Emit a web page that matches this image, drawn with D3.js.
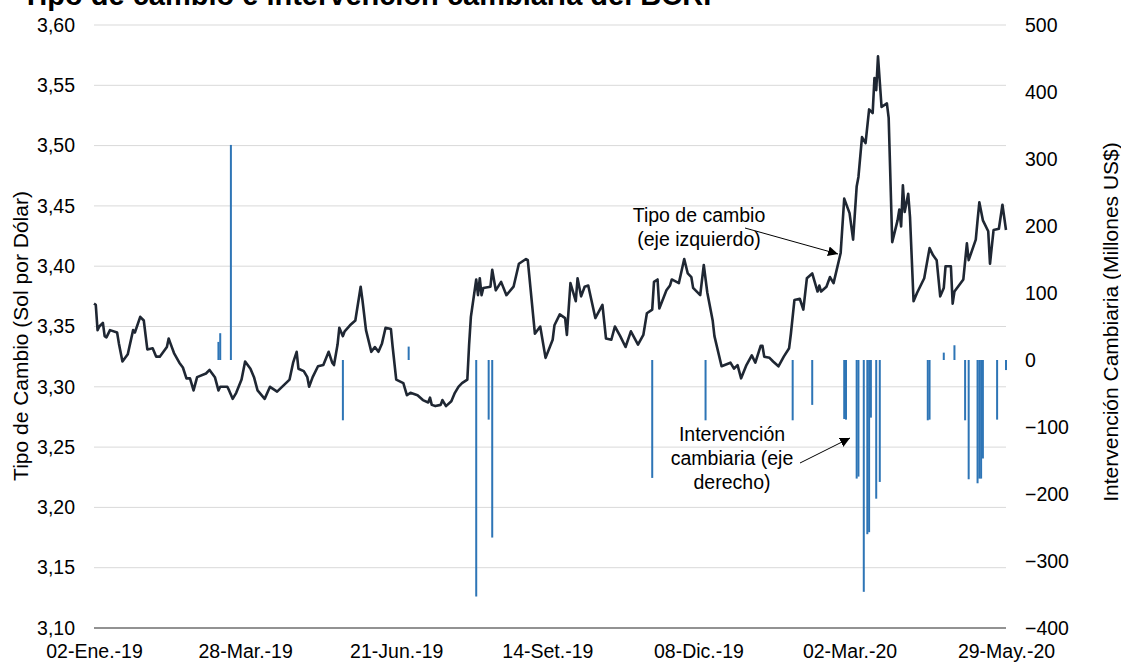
<!DOCTYPE html>
<html>
<head>
<meta charset="utf-8">
<script src="https://cdn.jsdelivr.net/npm/d3@7"></script>
<style>
  html, body { margin: 0; padding: 0; background: #fff; }
  svg { display: block; font-family: "Liberation Sans", Arial, sans-serif; }
</style>
</head>
<body>
<svg id="chart" width="1121" height="662"></svg>
<script>
// ---------- data ----------
const titleText = "Tipo de cambio e intervención cambiaria del BCRP";
const leftAxisTitle = "Tipo de Cambio (Sol por Dólar)";
const rightAxisTitle = "Intervención Cambiaria (Millones US$)";

const xTickDates = ["2019-01-02","2019-03-28","2019-06-21","2019-09-14","2019-12-08","2020-03-02","2020-05-29"];
const xTickLabels = ["02-Ene.-19","28-Mar.-19","21-Jun.-19","14-Set.-19","08-Dic.-19","02-Mar.-20","29-May.-20"];
const leftTicks = [3.10,3.15,3.20,3.25,3.30,3.35,3.40,3.45,3.50,3.55,3.60];
const rightTicks = [-400,-300,-200,-100,0,100,200,300,400,500];

const fxDates = [
"2019-01-02","2019-01-03","2019-01-04","2019-01-05","2019-01-07","2019-01-08","2019-01-09","2019-01-11","2019-01-15","2019-01-16",
"2019-01-18","2019-01-21","2019-01-24","2019-01-25","2019-01-28","2019-01-30","2019-02-01","2019-02-04","2019-02-06","2019-02-08",
"2019-02-12","2019-02-13","2019-02-14","2019-02-16","2019-02-19","2019-02-21","2019-02-23","2019-02-25","2019-02-27","2019-03-01",
"2019-03-06","2019-03-08","2019-03-11","2019-03-13","2019-03-14","2019-03-18","2019-03-19","2019-03-21","2019-03-23","2019-03-26",
"2019-03-28","2019-03-31","2019-04-02","2019-04-04","2019-04-08","2019-04-11","2019-04-15","2019-04-22","2019-04-24","2019-04-26",
"2019-04-27","2019-04-30","2019-05-02","2019-05-03","2019-05-05","2019-05-08","2019-05-11","2019-05-14","2019-05-16","2019-05-17",
"2019-05-19","2019-05-20","2019-05-22","2019-05-23","2019-05-26","2019-05-29","2019-06-01","2019-06-02","2019-06-04","2019-06-07",
"2019-06-09","2019-06-11","2019-06-13","2019-06-15","2019-06-18","2019-06-19","2019-06-21","2019-06-25","2019-06-27","2019-06-29",
"2019-07-03","2019-07-06","2019-07-09","2019-07-10","2019-07-11","2019-07-13","2019-07-16","2019-07-17","2019-07-19","2019-07-22",
"2019-07-24","2019-07-26","2019-07-28","2019-07-31","2019-08-01","2019-08-02","2019-08-05","2019-08-06","2019-08-07","2019-08-08",
"2019-08-09","2019-08-13","2019-08-14","2019-08-16","2019-08-19","2019-08-22","2019-08-26","2019-08-29","2019-09-02","2019-09-03",
"2019-09-07","2019-09-10","2019-09-13","2019-09-17","2019-09-18","2019-09-21","2019-09-24","2019-09-25","2019-09-27","2019-09-30",
"2019-10-01","2019-10-03","2019-10-05","2019-10-07","2019-10-11","2019-10-15","2019-10-17","2019-10-20","2019-10-22","2019-10-25",
"2019-10-28","2019-10-31","2019-11-04","2019-11-07","2019-11-09","2019-11-12","2019-11-13","2019-11-15","2019-11-16","2019-11-20",
"2019-11-22","2019-11-23","2019-11-27","2019-11-30","2019-12-02","2019-12-04","2019-12-05","2019-12-09","2019-12-11","2019-12-13",
"2019-12-16","2019-12-17","2019-12-21","2019-12-26","2019-12-28","2019-12-30","2020-01-01","2020-01-04","2020-01-07","2020-01-09",
"2020-01-12","2020-01-13","2020-01-14","2020-01-17","2020-01-19","2020-01-22","2020-01-25","2020-01-28","2020-01-29","2020-01-31",
"2020-02-03","2020-02-05","2020-02-07","2020-02-10","2020-02-13","2020-02-14","2020-02-15","2020-02-18","2020-02-20","2020-02-22",
"2020-02-26","2020-02-28","2020-03-02","2020-03-04","2020-03-06","2020-03-07","2020-03-09","2020-03-11","2020-03-13","2020-03-15",
"2020-03-16","2020-03-17","2020-03-18","2020-03-20","2020-03-23","2020-03-24","2020-03-26","2020-03-29","2020-03-30","2020-03-31",
"2020-04-01","2020-04-02","2020-04-04","2020-04-05","2020-04-07","2020-04-09","2020-04-13","2020-04-16","2020-04-18","2020-04-20",
"2020-04-22","2020-04-24","2020-04-25","2020-04-28","2020-04-29","2020-04-30","2020-05-05","2020-05-07","2020-05-08","2020-05-12",
"2020-05-13","2020-05-14","2020-05-16","2020-05-19","2020-05-20","2020-05-22","2020-05-25","2020-05-27","2020-05-29"
];
const fxValues = [
3.369,3.368,3.347,3.350,3.353,3.342,3.341,3.347,3.345,3.336,
3.321,3.327,3.347,3.345,3.358,3.355,3.331,3.332,3.325,3.325,
3.333,3.340,3.336,3.328,3.320,3.316,3.307,3.307,3.297,3.308,
3.311,3.314,3.308,3.297,3.300,3.300,3.297,3.290,3.295,3.306,
3.321,3.315,3.308,3.297,3.290,3.300,3.296,3.306,3.320,3.329,
3.315,3.313,3.308,3.300,3.308,3.317,3.318,3.329,3.320,3.318,
3.335,3.349,3.342,3.346,3.351,3.355,3.383,3.372,3.347,3.329,
3.333,3.329,3.336,3.349,3.348,3.333,3.306,3.303,3.293,3.295,
3.293,3.289,3.287,3.291,3.285,3.284,3.285,3.289,3.284,3.288,
3.295,3.300,3.303,3.306,3.335,3.358,3.389,3.376,3.390,3.376,
3.382,3.383,3.397,3.380,3.387,3.376,3.383,3.402,3.406,3.405,
3.344,3.350,3.324,3.339,3.351,3.360,3.357,3.343,3.386,3.371,
3.390,3.375,3.383,3.384,3.357,3.368,3.340,3.339,3.350,3.342,
3.333,3.346,3.335,3.343,3.361,3.364,3.387,3.389,3.365,3.380,
3.384,3.389,3.386,3.406,3.394,3.391,3.382,3.376,3.401,3.378,
3.355,3.342,3.317,3.320,3.315,3.318,3.307,3.318,3.326,3.320,
3.334,3.334,3.325,3.324,3.321,3.317,3.325,3.332,3.344,3.372,
3.373,3.364,3.390,3.394,3.379,3.384,3.379,3.383,3.391,3.386,
3.411,3.456,3.444,3.422,3.466,3.474,3.507,3.502,3.530,3.527,
3.556,3.546,3.574,3.532,3.535,3.523,3.420,3.438,3.447,3.433,
3.467,3.445,3.460,3.441,3.371,3.378,3.390,3.415,3.409,3.405,
3.375,3.382,3.400,3.400,3.369,3.379,3.389,3.419,3.405,3.422,
3.438,3.453,3.438,3.429,3.402,3.430,3.431,3.451,3.430
];

const intDates = [
"2019-03-13","2019-03-14","2019-03-20","2019-05-22","2019-06-28","2019-08-05","2019-08-12","2019-08-14","2019-11-12","2019-12-12",
"2020-01-30","2020-02-10","2020-02-28","2020-02-29","2020-03-06","2020-03-07","2020-03-10","2020-03-12","2020-03-13","2020-03-14",
"2020-03-17","2020-03-19","2020-04-15","2020-04-16","2020-04-24","2020-04-30","2020-05-06","2020-05-08","2020-05-13","2020-05-14",
"2020-05-15","2020-05-16","2020-05-24","2020-05-29"
];
const intValues = [
27,40,321,-90,20,-353,-89,-265,-176,-90,
-90,-67,-88,-89,-177,-174,-346,-260,-257,-86,
-207,-182,-90,-89,11,22,-90,-178,-184,-177,
-177,-147,-89,-15
];

// ---------- chart ----------
const parse = d3.utcParse("%Y-%m-%d");
const svg = d3.select("#chart");
const L = 94, R = 1006, T = 25, B = 628;
const FONT = 19.5;

const x = d3.scaleUtc().domain([parse("2019-01-02"), parse("2020-05-29")]).range([L, R]);
const yL = d3.scaleLinear().domain([3.10, 3.60]).range([B, T]);
const yR = d3.scaleLinear().domain([-400, 500]).range([B, T]);

// gridlines
svg.append("g").selectAll("line").data(leftTicks.filter(t => t > 3.10)).join("line")
  .attr("x1", L).attr("x2", R)
  .attr("y1", d => yL(d)).attr("y2", d => yL(d))
  .attr("stroke", "#d9d9d9").attr("stroke-width", 1);

// bars
const bars = intDates.map((d, i) => ({ date: parse(d), v: intValues[i] }));
svg.append("g").selectAll("rect").data(bars).join("rect")
  .attr("x", d => x(d.date) - 1)
  .attr("width", 2)
  .attr("y", d => yR(Math.max(0, d.v)))
  .attr("height", d => Math.abs(yR(d.v) - yR(0)))
  .attr("fill", "#2e75b6");

// line
const fx = fxDates.map((d, i) => ({ date: parse(d), v: fxValues[i] }));
svg.append("path").datum(fx)
  .attr("fill", "none").attr("stroke", "#1f2733").attr("stroke-width", 2.6)
  .attr("stroke-linejoin", "round")
  .attr("d", d3.line().x(d => x(d.date)).y(d => yL(d.v)));

// bottom axis line
svg.append("line").attr("x1", L).attr("x2", R).attr("y1", B).attr("y2", B)
  .attr("stroke", "#262626").attr("stroke-width", 1.2);

// axes
const fmtL = v => d3.format(".2f")(v).replace(".", ",");
const gl = svg.append("g").attr("transform", `translate(${L},0)`)
  .call(d3.axisLeft(yL).tickValues(leftTicks).tickFormat(fmtL).tickSize(0).tickPadding(19));
const gr = svg.append("g").attr("transform", `translate(${R},0)`)
  .call(d3.axisRight(yR).tickValues(rightTicks).tickSize(0).tickPadding(19));
const gb = svg.append("g").attr("transform", `translate(0,${B})`)
  .call(d3.axisBottom(x).tickValues(xTickDates.map(parse))
    .tickFormat((d, i) => xTickLabels[i]).tickSize(0).tickPadding(16));
[gl, gr, gb].forEach(g => {
  g.select(".domain").remove();
  g.selectAll("text").attr("font-size", FONT).attr("fill", "#000")
    .attr("font-family", "Liberation Sans, Arial, sans-serif");
});

// title (partially cut at top as in the reference)
svg.append("text").attr("x", 22).attr("y", 5)
  .attr("font-size", 29).attr("font-weight", "bold").attr("fill", "#000")
  .text(titleText);

// axis titles
svg.append("text").attr("transform", "translate(20,336) rotate(-90)")
  .attr("text-anchor", "middle").attr("dominant-baseline", "central")
  .attr("font-size", 21).attr("fill", "#000").text(leftAxisTitle);
svg.append("text").attr("transform", "translate(1110,322) rotate(-90)")
  .attr("text-anchor", "middle").attr("dominant-baseline", "central")
  .attr("font-size", 21).attr("fill", "#000").text(rightAxisTitle);

// annotations
const defs = svg.append("defs");
defs.append("marker").attr("id", "arr").attr("viewBox", "0 0 10 10")
  .attr("refX", 10).attr("refY", 5).attr("markerWidth", 10).attr("markerHeight", 10)
  .attr("markerUnits", "userSpaceOnUse").attr("orient", "auto")
  .append("path").attr("d", "M0,0 L10,5 L0,10 z").attr("fill", "#000");

const ann1 = ["Tipo de cambio", "(eje izquierdo)"];
svg.append("g").selectAll("text").data(ann1).join("text")
  .attr("x", 699).attr("y", (d, i) => 222 + i * 24)
  .attr("text-anchor", "middle").attr("font-size", FONT).attr("fill", "#000")
  .text(d => d);
svg.append("line").attr("x1", 745).attr("y1", 228).attr("x2", 838).attr("y2", 254)
  .attr("stroke", "#000").attr("stroke-width", 1).attr("marker-end", "url(#arr)");

const ann2 = ["Intervención", "cambiaria (eje", "derecho)"];
svg.append("g").selectAll("text").data(ann2).join("text")
  .attr("x", 732).attr("y", (d, i) => 441 + i * 24)
  .attr("text-anchor", "middle").attr("font-size", FONT).attr("fill", "#000")
  .text(d => d);
svg.append("line").attr("x1", 800).attr("y1", 463).attr("x2", 850).attr("y2", 438)
  .attr("stroke", "#000").attr("stroke-width", 1).attr("marker-end", "url(#arr)");
</script>
</body>
</html>
